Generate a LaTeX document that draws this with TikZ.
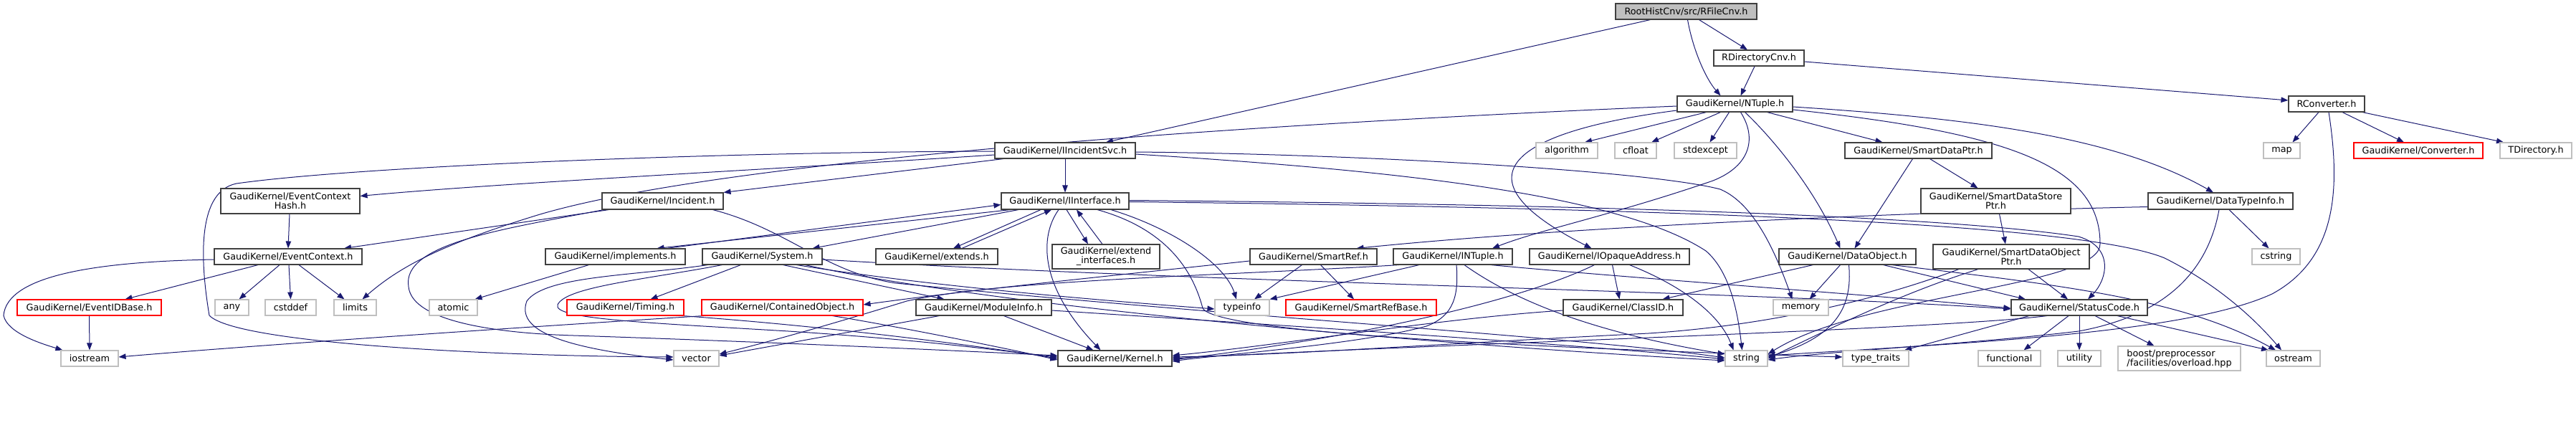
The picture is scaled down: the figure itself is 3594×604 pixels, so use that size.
\documentclass[tikz,border=0pt]{standalone}
\usepackage{fontspec}
\setmainfont{DejaVu Sans}
\usetikzlibrary{arrows.meta}
\definecolor{edgeblue}{HTML}{191970}
\definecolor{lgray}{HTML}{BFBFBF}
\definecolor{dgray}{HTML}{404040}
\newcommand{\fsz}{\fontsize{12.8pt}{13pt}\selectfont}
\pgfdeclarelayer{bg}
\pgfsetlayers{bg,main}
\tikzset{
  box/.style={draw=dgray, line width=1.1pt, inner sep=0pt, minimum height=22pt, font=\fsz, text=black, fill=white},
  gbox/.style={box, draw=lgray},
  rbox/.style={box, draw=red},
  e/.style={draw=edgeblue, line width=1.0pt, -{Triangle[length=10pt,width=7.5pt]}}
}
\begin{document}
\begin{tikzpicture}[x=1pt,y=-1pt]
\useasboundingbox (0,0) rectangle (3594,604);
% nodes
\node[box, fill=lgray, minimum width=197pt] (rfile) at (2352.5,16) {RootHistCnv/src/RFileCnv.h};
\node[box, minimum width=126pt] (rdir) at (2454,81) {RDirectoryCnv.h};
\node[box, minimum width=161pt] (ntuple) at (2420.5,145) {GaudiKernel/NTuple.h};
\node[box, minimum width=106pt] (rconv) at (3246,145) {RConverter.h};
\node[box, minimum width=196pt] (iincsvc) at (1486,210) {GaudiKernel/IIncidentSvc.h};
\node[gbox, minimum width=86pt] (algorithm) at (2186,210) {algorithm};
\node[gbox, minimum width=58pt] (cfloat) at (2282,210) {cfloat};
\node[gbox, minimum width=87pt] (stdexcept) at (2379.5,210) {stdexcept};
\node[box, minimum width=205pt] (sdptr) at (2676.5,210) {GaudiKernel/SmartDataPtr.h};
\node[gbox, minimum width=51pt] (map) at (3183.5,210) {map};
\node[rbox, minimum width=180pt] (converter) at (3374,210) {GaudiKernel/Converter.h};
\node[gbox, minimum width=100pt] (tdir) at (3538,210) {TDirectory.h};
\node[box, minimum width=194pt, minimum height=35pt, align=center] (ech) at (405,280.5) {GaudiKernel/EventContext\\Hash.h};
\node[box, minimum width=169pt, minimum height=23pt] (incident) at (924.5,280.5) {GaudiKernel/Incident.h};
\node[box, minimum width=178pt, minimum height=23pt] (iinterface) at (1486,280.5) {GaudiKernel/IInterface.h};
\node[box, minimum width=209pt, minimum height=35pt, align=center] (sdsptr) at (2784.5,280.5) {GaudiKernel/SmartDataStore\\Ptr.h};
\node[box, minimum width=202pt, minimum height=23pt] (dtinfo) at (3098,280.5) {GaudiKernel/DataTypeInfo.h};
\node[box, minimum width=206pt] (evctx) at (402,358) {GaudiKernel/EventContext.h};
\node[box, minimum width=195pt] (implements) at (858.5,358) {GaudiKernel/implements.h};
\node[box, minimum width=167pt] (system) at (1063.5,358) {GaudiKernel/System.h};
\node[box, minimum width=170pt] (extends) at (1307,358) {GaudiKernel/extends.h};
\node[box, minimum width=150pt, minimum height=34pt, align=center] (extif) at (1543,358) {GaudiKernel/extend\\\_interfaces.h};
\node[box, minimum width=177pt] (smartref) at (1832.5,358) {GaudiKernel/SmartRef.h};
\node[box, minimum width=166pt] (intuple) at (2027,358) {GaudiKernel/INTuple.h};
\node[box, minimum width=223pt] (iopaque) at (2245.5,358) {GaudiKernel/IOpaqueAddress.h};
\node[box, minimum width=191pt] (dataobj) at (2577.5,358) {GaudiKernel/DataObject.h};
\node[box, minimum width=218pt, minimum height=34pt, align=center] (sdoptr) at (2806,358) {GaudiKernel/SmartDataObject\\Ptr.h};
\node[gbox, minimum width=67pt] (cstring) at (3175.5,358) {cstring};
\node[rbox, minimum width=201pt] (evidbase) at (124.5,429) {GaudiKernel/EventIDBase.h};
\node[gbox, minimum width=47pt] (any) at (323.5,429) {any};
\node[gbox, minimum width=71pt] (cstddef) at (405.5,429) {cstddef};
\node[gbox, minimum width=59pt] (limits) at (495.5,429) {limits};
\node[gbox, minimum width=67pt] (atomic) at (632.5,429) {atomic};
\node[rbox, minimum width=163pt] (timing) at (872.5,429) {GaudiKernel/Timing.h};
\node[rbox, minimum width=225pt] (contobj) at (1091.5,429) {GaudiKernel/ContainedObject.h};
\node[box, minimum width=189pt] (modinfo) at (1372.5,429) {GaudiKernel/ModuleInfo.h};
\node[gbox, minimum width=76pt] (typeinfo) at (1733,429) {typeinfo};
\node[rbox, minimum width=210pt] (smartrefbase) at (1899,429) {GaudiKernel/SmartRefBase.h};
\node[box, minimum width=167pt] (classid) at (2264.5,429) {GaudiKernel/ClassID.h};
\node[gbox, minimum width=77pt] (memory) at (2512.5,429) {memory};
\node[box, minimum width=190pt] (statuscode) at (2901,429) {GaudiKernel/StatusCode.h};
\node[gbox, minimum width=80pt] (iostream) at (125,500) {iostream};
\node[gbox, minimum width=63pt] (vector) at (971.5,500) {vector};
\node[box, minimum width=159pt] (kernel) at (1555.5,500) {GaudiKernel/Kernel.h};
\node[gbox, minimum width=59pt] (string) at (2436.5,500) {string};
\node[gbox, minimum width=92pt] (typetraits) at (2617,500) {type\_traits};
\node[gbox, minimum width=87pt] (functional) at (2803.5,500) {functional};
\node[gbox, minimum width=60pt] (utility) at (2901,500) {utility};
\node[gbox, minimum width=171pt, minimum height=34pt, align=left] (boost) at (3040.5,500) {boost/preprocessor\\/facilities/overload.hpp};
\node[gbox, minimum width=75pt] (ostream) at (3199.5,500) {ostream};

\begin{pgfonlayer}{bg}
% RFileCnv
\draw[e] ([xshift=-50pt]rfile.south) -- ([xshift=57pt]iincsvc.north);
\draw[e] ([xshift=2pt]rfile.south) .. controls (2362,70) and (2380,110) .. ([xshift=-20pt]ntuple.north);
\draw[e] ([xshift=18pt]rfile.south) -- ([xshift=-16pt]rdir.north);
% RDirectoryCnv
\draw[e] ([xshift=-6pt]rdir.south) -- ([xshift=8pt]ntuple.north);
\draw[e] ([yshift=-5pt]rdir.east) -- ([yshift=5pt]rconv.west);
% RConverter
\draw[e] ([xshift=-11pt]rconv.south) -- ([xshift=15pt]map.north);
\draw[e] ([xshift=22pt]rconv.south) -- ([xshift=-20pt]converter.north);
\draw[e] ([xshift=50pt]rconv.south) -- ([xshift=-45pt]tdir.north);
\draw[e] ([xshift=3pt]rconv.south) .. controls (3265,260) and (3262,360) .. (3170,410) .. controls (3050,465) and (2750,478) .. ([yshift=4pt]string.east);
% NTuple
\draw[e] ([xshift=-40pt]ntuple.south) -- ([xshift=25pt]algorithm.north);
\draw[e] ([xshift=-20pt]ntuple.south) -- ([xshift=22pt]cfloat.north);
\draw[e] ([xshift=-8pt]ntuple.south) -- ([xshift=6pt]stdexcept.north);
\draw[e] ([yshift=-3pt]ntuple.west) .. controls (1700,175) and (1000,225) .. (750,300) .. controls (620,340) and (560,370) .. ([xshift=10pt]limits.north);
\draw[e] ([yshift=-9pt]ntuple.west) .. controls (2100,185) and (2030,250) .. ([xshift=-25pt]iopaque.north);
\draw[e] ([xshift=8pt]ntuple.south) .. controls (2450,190) and (2445,230) .. (2390,252) .. controls (2250,300) and (2150,320) .. ([xshift=55pt]intuple.north);
\draw[e] ([xshift=14pt]ntuple.south) .. controls (2470,190) and (2530,260) .. ([xshift=-10pt]dataobj.north);
\draw[e] ([xshift=45pt]ntuple.south) -- ([xshift=-50pt]sdptr.north);
\draw[e] ([yshift=-4pt]ntuple.east) .. controls (2750,165) and (2950,190) .. ([xshift=-10pt]dtinfo.north);
\draw[e] ([yshift=-8pt]ntuple.east) .. controls (2800,185) and (2930,230) .. (2930,340) .. controls (2932,400) and (2600,410) .. ([yshift=6pt]string.east);
% IIncidentSvc
\draw[e] (iincsvc.south) -- (iinterface.north);
\draw[e] ([yshift=-6pt]iincsvc.west) .. controls (1100,235) and (700,255) .. ([yshift=7pt]ech.east);
\draw[e] ([xshift=-86pt]iincsvc.south) -- (incident.north east);
\draw[e] ([yshift=-1pt]iincsvc.west) .. controls (1000,212) and (500,232) .. (330,256) .. controls (270,268) and (282,380) .. (292,440) .. controls (330,480) and (700,497) .. ([yshift=2pt]vector.west);
\draw[e] ([yshift=-2pt]iincsvc.east) .. controls (1900,215) and (2300,238) .. (2400,264) .. controls (2450,285) and (2480,360) .. ([xshift=-12pt]memory.north);
\draw[e] ([yshift=-5pt]iincsvc.east) .. controls (1900,235) and (2250,265) .. (2380,350) .. controls (2415,380) and (2425,440) .. ([xshift=-6pt]string.north);
% EventContextHash / EventContext
\draw[e] ([xshift=-1pt]ech.south) -- (evctx.north);
\draw[e] ([xshift=-42pt]evctx.south) -- ([xshift=50pt]evidbase.north);
\draw[e] ([xshift=-12pt]evctx.south) -- ([xshift=10pt]any.north);
\draw[e] ([xshift=1pt]evctx.south) -- (cstddef.north);
\draw[e] ([xshift=15pt]evctx.south) -- ([xshift=-15pt]limits.north);
\draw[e] ([yshift=-4pt]evctx.west) .. controls (130,365) and (10,385) .. (5,440) .. controls (10,465) and (60,480) .. ([xshift=3pt]iostream.north west);
\draw[e] (evidbase.south) -- (iostream.north);
% Incident
\draw[e] ([xshift=-75pt]incident.south) -- ([xshift=78pt]evctx.north);
\draw[e] ([xshift=-82pt]incident.south) .. controls (700,320) and (560,340) .. (570,400) .. controls (575,450) and (700,465) .. (800,468) .. controls (1100,478) and (1350,490) .. ([yshift=4pt]kernel.west);
\draw[e] ([xshift=70pt]incident.south) .. controls (1100,320) and (1150,380) .. (1250,395) .. controls (1700,440) and (2200,470) .. ([yshift=1pt]string.west);
% IInterface
\draw[e] ([xshift=-34pt]iinterface.south) -- ([xshift=23pt]extends.north);
\draw[e] ([xshift=35pt]extends.north) -- ([xshift=-19pt]iinterface.south);
\draw[e] ([xshift=-76pt]iinterface.south) -- ([xshift=58pt]implements.north);
\draw[e] ([xshift=72pt]implements.north) -- ([yshift=-5pt]iinterface.west);
\draw[e] ([xshift=2pt]iinterface.south) -- ([xshift=-25pt]extif.north);
\draw[e] ([xshift=-5pt]extif.north) -- ([xshift=16pt]iinterface.south);
\draw[e] ([xshift=-65pt]iinterface.south) -- ([xshift=70pt]system.north);
\draw[e] ([xshift=-9pt]iinterface.south) .. controls (1450,330) and (1450,400) .. ([xshift=-20pt]kernel.north);
\draw[e] ([xshift=64pt]iinterface.south) .. controls (1640,320) and (1710,370) .. ([xshift=-8pt]typeinfo.north);
\draw[e] ([xshift=45pt]iinterface.south) .. controls (1630,320) and (1665,380) .. (1678,430) .. controls (1700,470) and (2300,490) .. ([yshift=2pt]typetraits.west);
\draw[e] ([yshift=1pt]iinterface.east) .. controls (2200,285) and (2700,300) .. (2900,330) .. controls (2950,345) and (2940,390) .. ([xshift=12pt]statuscode.north);
\draw[e] ([yshift=-1pt]iinterface.east) .. controls (2300,290) and (2900,310) .. (3020,360) .. controls (3100,400) and (3150,450) .. ([xshift=-16.5pt]ostream.north);
% implements
\draw[e] ([xshift=-37pt]implements.south) -- ([xshift=30pt]atomic.north);
% System
\draw[e] ([xshift=-30pt]system.south) -- ([xshift=35pt]timing.north);
\draw[e] ([xshift=29pt]system.south) -- ([xshift=-55pt]modinfo.north);
\draw[e] ([xshift=-76pt]system.south) .. controls (880,385) and (760,385) .. (735,420) .. controls (720,460) and (780,485) .. ([yshift=-2pt]vector.west);
\draw[e] ([xshift=-56pt]system.south) .. controls (900,390) and (790,400) .. (778,425) .. controls (770,445) and (900,450) .. (1100,462) .. controls (1300,475) and (1400,490) .. ([yshift=2pt]kernel.west);
\draw[e] ([xshift=48pt]system.south) .. controls (1300,400) and (1550,420) .. ([yshift=-2pt]typeinfo.west);
\draw[e] ([xshift=60pt]system.south) .. controls (1350,420) and (1900,475) .. ([yshift=-3pt]string.west);
\draw[e] ([yshift=-4pt]system.east) .. controls (1700,395) and (2400,405) .. ([yshift=-2pt]statuscode.west);
% Timing, ContainedObject, ModuleInfo
\draw[e] ([xshift=80pt]timing.south) .. controls (1150,455) and (1350,480) .. (kernel.west);
\draw[e] ([xshift=-110pt]contobj.south) .. controls (800,452) and (400,478) .. ([yshift=2pt]iostream.east);
\draw[e] ([xshift=70pt]contobj.south) .. controls (1250,455) and (1400,485) .. ([yshift=-2pt]kernel.west);
\draw[e] ([xshift=28pt]modinfo.south) -- ([xshift=-30pt]kernel.north);
\draw[e] ([xshift=-62pt]modinfo.south) -- ([yshift=4pt]vector.east);
\draw[e] ([yshift=-4pt]modinfo.east) .. controls (1700,448) and (2200,480) .. ([yshift=-1pt]string.west);
% SmartRef
\draw[e] ([xshift=-16pt]smartref.south) -- ([xshift=17pt]typeinfo.north);
\draw[e] ([xshift=10pt]smartref.south) -- ([xshift=-10pt]smartrefbase.north);
\draw[e] ([yshift=-6pt]smartref.west) .. controls (1500,390) and (1350,405) .. ([yshift=4pt]contobj.east);
% INTuple
\draw[e] ([xshift=-47pt]intuple.south) -- (typeinfo.north east);
\draw[e] ([xshift=-75pt]intuple.south) .. controls (1700,385) and (1400,390) .. (1265,420) .. controls (1200,440) and (1100,470) .. ([yshift=6pt]vector.east);
\draw[e] ([xshift=5pt]intuple.south) .. controls (2035,410) and (2030,440) .. (1990,455) .. controls (1900,480) and (1700,495) .. ([yshift=-4pt]kernel.east);
\draw[e] ([xshift=16pt]intuple.south) .. controls (2100,410) and (2200,460) .. ([yshift=6pt]string.west);
\draw[e] ([xshift=53pt]intuple.south) .. controls (2300,390) and (2600,410) .. ([yshift=-1pt]statuscode.west);
% IOpaqueAddress
\draw[e] ([xshift=4pt]iopaque.south) -- ([xshift=-5pt]classid.north);
\draw[e] ([xshift=-21pt]iopaque.south) .. controls (2120,420) and (1900,470) .. ([yshift=-2pt]kernel.east);
\draw[e] ([xshift=28pt]iopaque.south) .. controls (2350,400) and (2400,440) .. ([xshift=-18pt]string.north);
% DataObject
\draw[e] ([xshift=-48pt]dataobj.south) -- ([xshift=55pt]classid.north);
\draw[e] ([xshift=-10pt]dataobj.south) -- ([xshift=12pt]memory.north);
\draw[e] ([xshift=2pt]dataobj.south) .. controls (2585,430) and (2560,470) .. ([yshift=2pt]string.east);
\draw[e] ([xshift=50pt]dataobj.south) -- ([xshift=-75pt]statuscode.north);
\draw[e] ([xshift=62pt]dataobj.south) .. controls (2900,400) and (3050,420) .. ([xshift=-24.5pt]ostream.north);
% SmartDataPtr family
\draw[e] ([xshift=-8pt]sdptr.south) -- ([xshift=10pt]dataobj.north);
\draw[e] ([xshift=16pt]sdptr.south) -- ([xshift=-25pt]sdsptr.north);
\draw[e] ([xshift=5pt]sdsptr.south) -- ([xshift=-8pt]sdoptr.north);
\draw[e] ([xshift=24pt]sdoptr.south) -- ([xshift=-16pt]statuscode.north);
\draw[e] ([xshift=-46pt]sdoptr.south) .. controls (2650,410) and (2550,460) .. (string.east);
\draw[e] ([xshift=-73pt]sdoptr.south) .. controls (2600,425) and (2450,455) .. (2300,465) .. controls (2000,480) and (1800,495) .. ([yshift=2pt]kernel.east);
% DataTypeInfo
\draw[e] ([yshift=-8pt]dtinfo.west) .. controls (2700,295) and (2200,315) .. ([xshift=60pt]smartref.north);
\draw[e] ([xshift=12pt]dtinfo.south) -- ([xshift=-10pt]cstring.north);
\draw[e] ([xshift=-2pt]dtinfo.south) .. controls (3080,380) and (3020,440) .. (2900,462) .. controls (2750,480) and (2550,490) .. ([yshift=-2pt]string.east);
% ClassID
\draw[e] ([yshift=-4pt]classid.west) .. controls (2000,445) and (1800,480) .. ([yshift=4pt]kernel.east);
% StatusCode
\draw[e] ([xshift=-45pt]statuscode.south) .. controls (2700,460) and (2000,480) .. (kernel.east);
\draw[e] ([xshift=-70pt]statuscode.south) -- ([xshift=40pt]typetraits.north);
\draw[e] ([xshift=-15pt]statuscode.south) -- ([xshift=20pt]functional.north);
\draw[e] (statuscode.south) -- (utility.north);
\draw[e] ([xshift=22pt]statuscode.south) -- ([xshift=-35pt]boost.north);
\draw[e] ([xshift=53pt]statuscode.south) -- ([xshift=-34.5pt]ostream.north);
\end{pgfonlayer}
\end{tikzpicture}
\end{document}
